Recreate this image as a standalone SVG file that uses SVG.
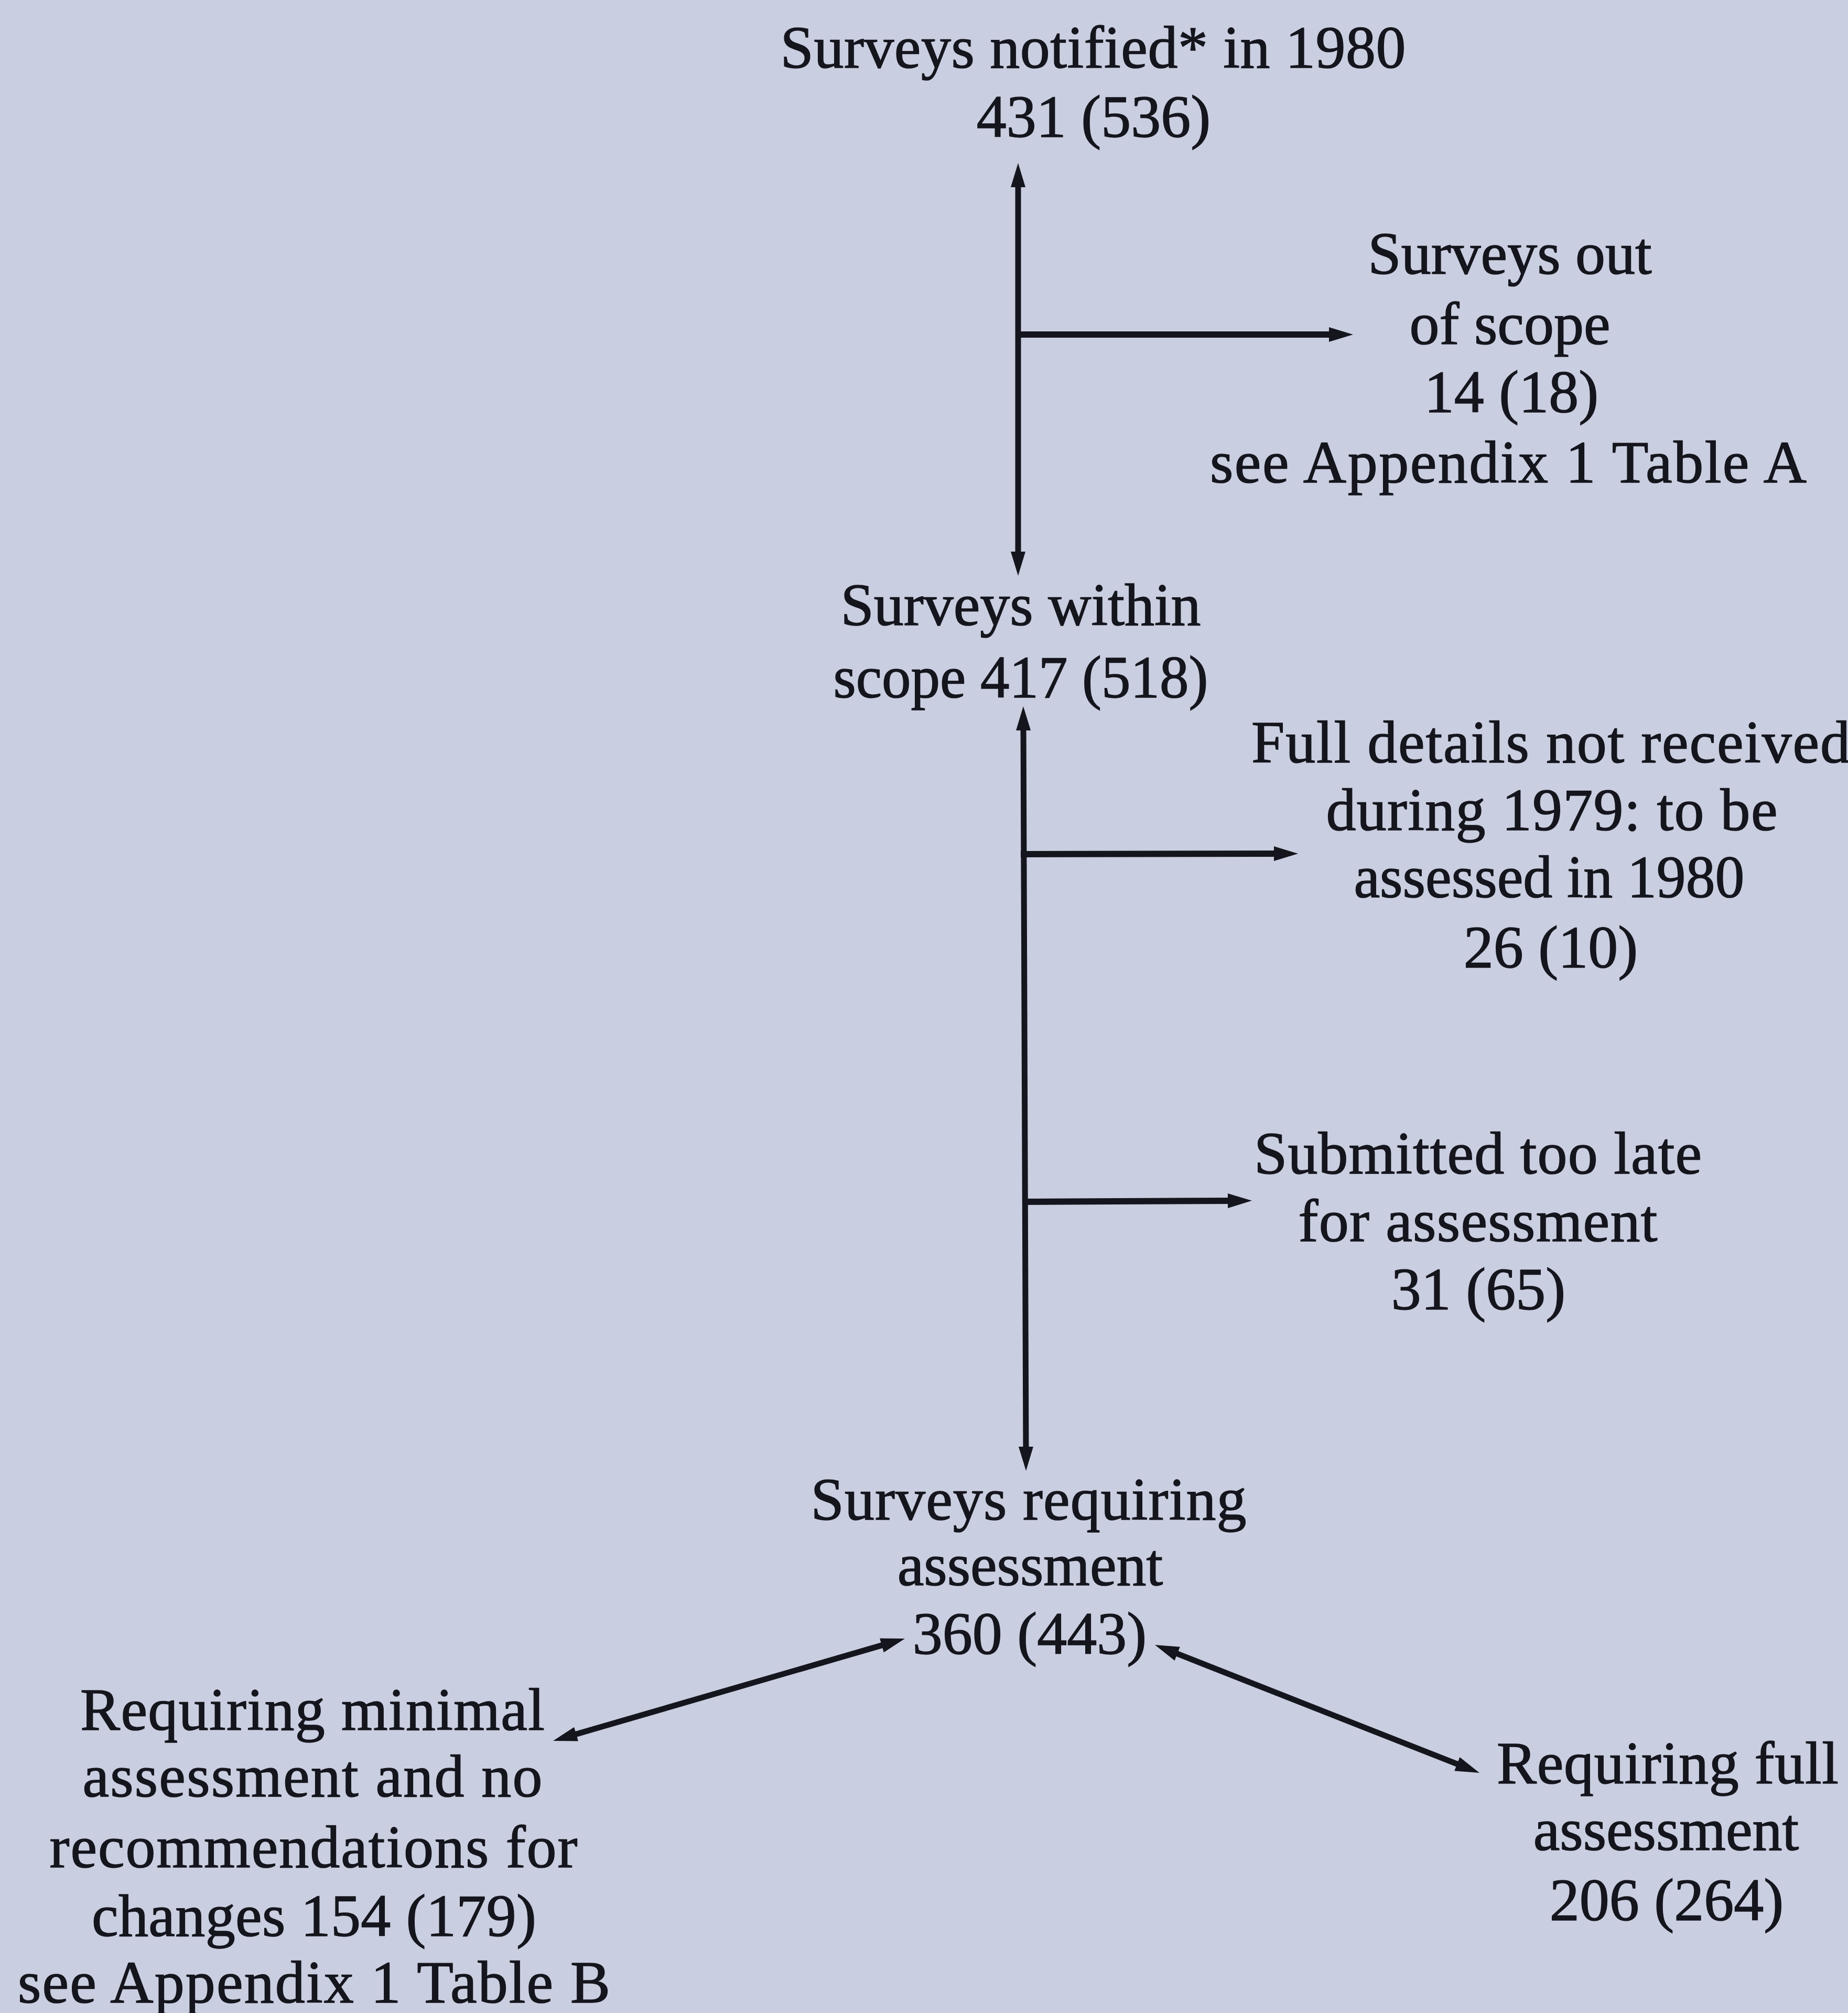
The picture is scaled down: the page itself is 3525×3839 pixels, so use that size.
<svg xmlns="http://www.w3.org/2000/svg" width="3525" height="3839" viewBox="0 0 3525 3839">
<defs>
<style>
text{font-family:"Liberation Serif","Times New Roman",serif;font-size:114px;fill:#15151d;stroke:#15151d;stroke-width:1.5;text-anchor:middle}
.c{fill:none;stroke:#15151d;stroke-width:11;stroke-linecap:butt}
.h{stroke-width:12}
</style>
<marker id="ah" viewBox="0 0 46 28" markerWidth="46" markerHeight="28" markerUnits="userSpaceOnUse" refX="16" refY="14" orient="auto-start-reverse">
<path d="M0,0 L46,14 L0,28 Z" fill="#15151d"/>
</marker>
</defs>
<rect x="0" y="0" width="3525" height="3839" fill="#c9cee0"/>
<g id="connectors">
<path class="c" d="M1942,341 L1942,1068" marker-start="url(#ah)" marker-end="url(#ah)"/>
<path class="c h" d="M1937,638 L2551,638" marker-end="url(#ah)"/>
<path class="c" d="M1952,1377 L1957,2775" marker-start="url(#ah)" marker-end="url(#ah)"/>
<path class="c h" d="M1947,1629 L2446,1628" marker-end="url(#ah)"/>
<path class="c h" d="M1951,2292 L2358,2290" marker-end="url(#ah)"/>
<path class="c" d="M1083.8,3311.6 L1697.2,3133.4" marker-start="url(#ah)" marker-end="url(#ah)"/>
<path class="c" d="M2230.9,3148 L2794.1,3370" marker-start="url(#ah)" marker-end="url(#ah)"/>
</g>
<g id="n_notified">
<text x="2085" y="129" textLength="1193" lengthAdjust="spacing">Surveys notified* in 1980</text>
<text x="2086" y="261">431 (536)</text>
</g>
<g id="n_outscope">
<text x="2880" y="522">Surveys out</text>
<text x="2880" y="656">of scope</text>
<text x="2883" y="786">14 (18)</text>
<text x="2877" y="920" textLength="1138" lengthAdjust="spacing">see Appendix 1 Table A</text>
</g>
<g id="n_within">
<text x="1947" y="1192">Surveys within</text>
<text x="1947" y="1330" textLength="715" lengthAdjust="spacingAndGlyphs">scope 417 (518)</text>
</g>
<g id="n_details">
<text x="2958" y="1454" textLength="1142" lengthAdjust="spacing">Full details not received</text>
<text x="2960" y="1583" textLength="861" lengthAdjust="spacing">during 1979: to be</text>
<text x="2955" y="1711" textLength="745" lengthAdjust="spacingAndGlyphs">assessed in 1980</text>
<text x="2958" y="1845">26 (10)</text>
</g>
<g id="n_late">
<text x="2819" y="2238" textLength="854" lengthAdjust="spacing">Submitted too late</text>
<text x="2819" y="2367" textLength="685" lengthAdjust="spacing">for assessment</text>
<text x="2820" y="2497">31 (65)</text>
</g>
<g id="n_requiring">
<text x="1962" y="2898" textLength="831" lengthAdjust="spacing">Surveys requiring</text>
<text x="1965" y="3023">assessment</text>
<text x="1964" y="3154">360 (443)</text>
</g>
<g id="n_minimal">
<text x="596" y="3299" textLength="886" lengthAdjust="spacing">Requiring minimal</text>
<text x="596" y="3426" textLength="877" lengthAdjust="spacing">assessment and no</text>
<text x="598" y="3561" textLength="1007" lengthAdjust="spacing">recommendations for</text>
<text x="599" y="3692" textLength="848" lengthAdjust="spacing">changes 154 (179)</text>
<text x="599" y="3819" textLength="1130" lengthAdjust="spacing">see Appendix 1 Table B</text>
</g>
<g id="n_full">
<text x="3181" y="3401" textLength="652" lengthAdjust="spacing">Requiring full</text>
<text x="3178" y="3528">assessment</text>
<text x="3179" y="3662">206 (264)</text>
</g>
</svg>
